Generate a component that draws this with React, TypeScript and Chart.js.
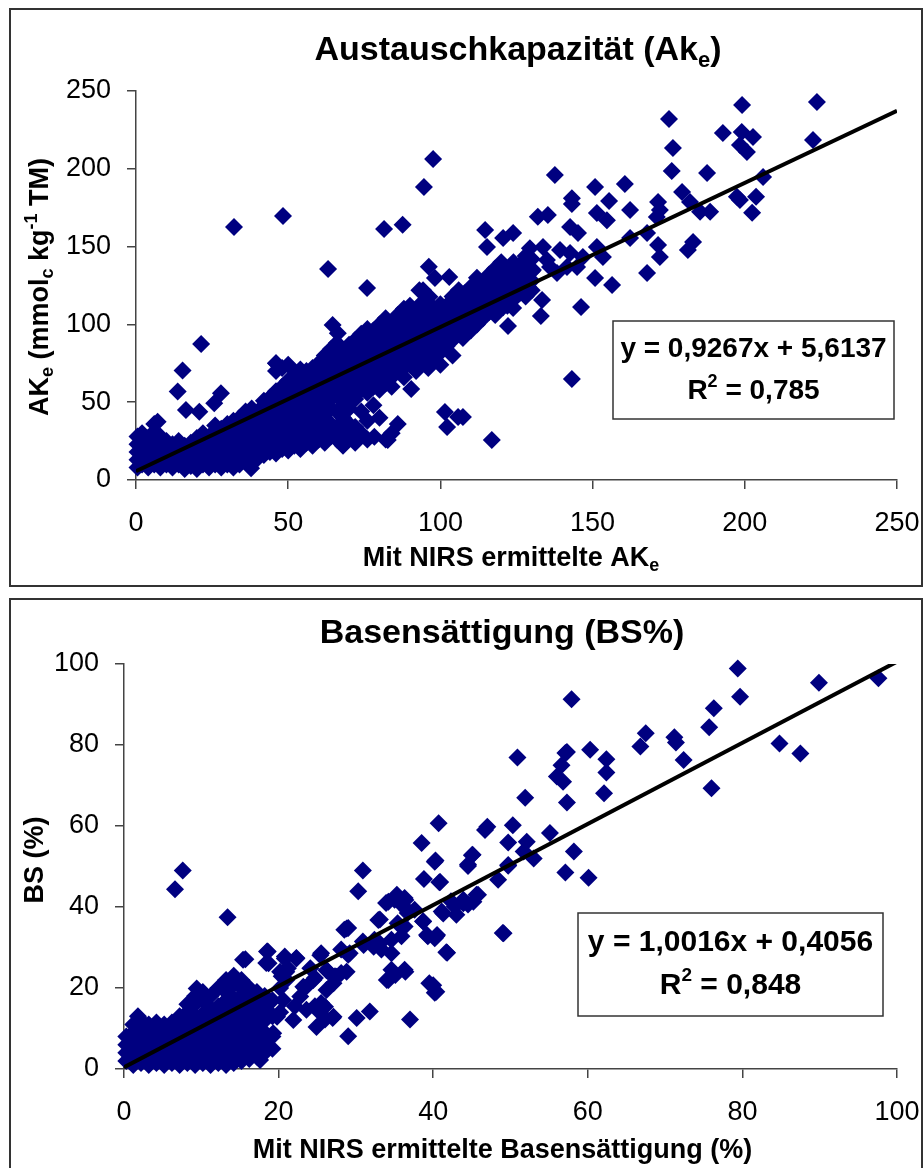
import React, { useEffect, useRef } from 'react';
import { Chart, registerables } from 'chart.js';

Chart.register(...registerables);

const FONT = '"Liberation Sans", Arial, Helvetica, sans-serif';
const NAVY = '#000080';

// ---------- Chart 1: Austauschkapazität ----------
const akeTicks = [0, 50, 100, 150, 200, 250];
const akeTrendX = [0, 250];
const akeTrendY = [5.61, 237.3];

// dense cloud: [NIRS value, measured values at that NIRS value]
const akeDense: [number, number[]][] = [
  [0.5, [8, 13, 18, 23, 28]], [2, [10, 15, 20, 25, 30]], [4, [8, 12, 17, 22, 27]],
  [6, [10, 15, 20, 25, 31, 36]], [8, [8, 13, 18, 23, 28]], [10, [10, 15, 20, 25]],
  [12, [8, 13, 18, 23]], [14, [10, 15, 20, 25]], [16, [7, 12, 17, 22]],
  [18, [9, 14, 19, 24]], [20, [7, 12, 17, 22, 27]], [22, [10, 15, 20, 25, 30]],
  [24, [8, 13, 18, 23, 28]], [26, [10, 15, 20, 25, 30, 35]], [28, [8, 13, 18, 23, 28, 33]],
  [30, [10, 15, 20, 25, 30, 36]], [32, [8, 13, 18, 23, 28, 33, 38]], [34, [10, 15, 20, 25, 30, 35, 40]],
  [36, [13, 18, 23, 28, 33, 38, 44]], [38, [12, 16, 21, 26, 31, 36, 41, 46]], [40, [14, 19, 24, 29, 34, 39, 44]],
  [42, [16, 21, 26, 31, 36, 41, 46, 51]], [44, [18, 23, 28, 33, 38, 43, 48, 53]],
  [46, [17, 22, 27, 32, 37, 42, 47, 52, 57, 70, 75]], [48, [20, 25, 30, 35, 40, 45, 50, 55, 60, 72]],
  [50, [19, 24, 29, 34, 39, 44, 49, 54, 59, 64, 74]], [52, [22, 27, 32, 37, 42, 47, 52, 57, 62, 67]],
  [54, [20, 26, 31, 36, 41, 46, 51, 56, 61, 66, 71]], [56, [24, 29, 34, 39, 44, 50, 55, 60, 65, 70]],
  [58, [22, 28, 38, 45, 52, 57, 62, 67, 72]], [60, [26, 35, 42, 50, 55, 60, 65, 70, 75]],
  [62, [24, 30, 40, 48, 54, 59, 64, 69, 74, 80]], [64, [28, 36, 46, 52, 57, 62, 67, 72, 77, 84]],
  [66, [26, 34, 44, 55, 60, 65, 70, 75, 80, 88]], [68, [22, 30, 40, 50, 58, 63, 68, 73, 78, 83]],
  [70, [28, 36, 46, 56, 62, 67, 72, 77, 82, 87]], [72, [24, 34, 52, 60, 65, 70, 75, 80, 85, 90]],
  [74, [30, 44, 58, 64, 69, 74, 79, 84, 89, 94]], [76, [26, 38, 56, 62, 67, 72, 77, 82, 87, 92, 97]],
  [78, [48, 60, 66, 71, 76, 81, 86, 91, 96]], [80, [40, 58, 64, 69, 74, 79, 84, 89, 94, 100]],
  [82, [26, 62, 68, 73, 78, 83, 88, 93, 98, 104]], [84, [30, 60, 66, 71, 76, 81, 86, 91, 96, 101]],
  [86, [70, 76, 81, 86, 91, 96, 101, 106]], [88, [66, 72, 78, 84, 89, 94, 99, 104, 110]],
  [90, [74, 80, 86, 91, 96, 101, 106, 112]], [92, [70, 78, 84, 89, 94, 99, 104, 109]],
  [94, [76, 82, 88, 93, 98, 103, 108, 114]], [96, [72, 80, 86, 91, 96, 101, 106, 111]],
  [98, [78, 84, 90, 95, 100, 105, 110]], [100, [74, 82, 88, 93, 98, 103, 108, 113]],
  [102, [86, 92, 97, 102, 107, 112]], [104, [80, 90, 96, 101, 106, 111, 118]],
  [106, [94, 100, 105, 110, 115, 122]], [108, [98, 103, 108, 113, 120]],
  [110, [96, 102, 107, 112, 117, 124]], [112, [100, 106, 111, 116, 122, 130]],
  [114, [104, 110, 115, 120, 126]], [116, [108, 113, 118, 124, 132]],
  [118, [106, 112, 117, 122, 128, 136]], [120, [114, 119, 124, 130, 140]],
  [122, [112, 118, 123, 128, 134]], [124, [116, 122, 127, 132, 140]],
  [126, [120, 126, 131, 138]], [128, [118, 124, 130, 136, 144]], [130, [122, 128, 134, 142]],
];

const akeSparse: [number, number][] = [
  [32.2, 162.6], [48.3, 169.7], [63.1, 135.6], [75.9, 123.4], [81.5, 161.3], [87.6, 164],
  [97.6, 206.3], [94.6, 188.3], [96.2, 137], [98.2, 129.8], [102.9, 130.5], [94.3, 122],
  [93.1, 122], [96.4, 117.8], [175.1, 232], [199.1, 241], [223.7, 242.9], [192.8, 223],
  [199, 223.7], [202.7, 220.4], [198.4, 215.3], [200.7, 210.8], [222.4, 218.5], [176.4, 213.4],
  [176, 198.6], [187.6, 197.3], [137.6, 196], [150.8, 188.3], [160.6, 190.2], [179.4, 185.1],
  [143.2, 181], [143.2, 177.4], [155.4, 179.3], [171.5, 178.7], [182, 178.7], [206, 194.7],
  [197.4, 182], [203.7, 182], [202.4, 171.8], [198.4, 180], [162.3, 173.5], [172.1, 173.5],
  [188.6, 172.4], [185.3, 172.4], [132, 169.2], [135.3, 170.3], [171.1, 169], [151.4, 171.6],
  [154.7, 167], [142.6, 162.6], [145.2, 158.7], [114.7, 160.7], [115.3, 149.7], [120.6, 155.5],
  [123.9, 158.7], [162.3, 155.5], [167.9, 158.7], [171.5, 151], [172.1, 143.3], [183, 153],
  [181.3, 147.8], [151.4, 149.7], [153.4, 143.3], [167.9, 133], [150.8, 129.8], [156.4, 125.3],
  [129.4, 149], [133.7, 149.7], [139.3, 147.8], [142.6, 145.9], [146.8, 143.3], [135, 141.4],
  [144.9, 136.9], [119.6, 136.9], [122.9, 133], [117.3, 130.5], [113, 127.2], [126.1, 124],
  [130.4, 135], [136, 136.9], [141.6, 136.9], [146.2, 111.2], [133.4, 115.7], [133, 105.4],
  [122.2, 99], [143.2, 64.9], [116.9, 25.7], [113, 102.8], [115.3, 107], [120.6, 111],
  [123.9, 110.5], [128.8, 124], [138.3, 133], [118.6, 133.7], [125.2, 128.5], [101.5, 43.7],
  [102.2, 34], [105.8, 40.5], [107.4, 40.5], [107.4, 91.3], [105.5, 94.5], [100.9, 88],
  [97.6, 80], [21.4, 87.4], [15.3, 70.3], [13.7, 56.8], [86, 36], [90.4, 58.5], [78.3, 27.8],
  [82.7, 25.7], [71.7, 27.8], [37.8, 7.5], [7.1, 37.5], [27.9, 55.7], [25.7, 49.3], [16.4, 45],
  [20.8, 43.9], [64.6, 99.6], [66.3, 94.3], [46, 75],
];

// ---------- Chart 2: Basensättigung ----------
const bsTicks = [0, 20, 40, 60, 80, 100];
const bsTrendX = [0, 100];
const bsTrendY = [0.41, 100.57];

const bsDense: [number, number[]][] = [
  [0.3, [2, 4, 6, 8]], [1.2, [1, 3, 5, 7, 9, 11]], [1.8, [13]], [2.2, [1.5, 3.5, 5.5, 7.5, 9.5, 12]],
  [3.2, [1, 3, 5, 7, 9, 11]], [4.2, [1.5, 3.5, 5.5, 7.5, 9.5, 11.5]], [5.2, [1, 3, 5, 7, 9, 11]],
  [6.2, [1.5, 3.5, 5.5, 7.5, 9.5, 11.5]], [7.2, [1, 3, 5, 7, 9, 11, 13]],
  [8.2, [1.5, 3.5, 5.5, 7.5, 9.5, 11.5, 14, 16]], [9.2, [1, 3, 5, 7, 9, 11, 13, 16, 18]],
  [10.2, [1.5, 3.5, 5.5, 7.5, 9.5, 11.5, 13.5, 17, 19]], [11.2, [1, 3, 5, 7, 9, 11, 13, 15, 18]],
  [12.2, [1.5, 3.5, 5.5, 7.5, 9.5, 11.5, 13.5, 15.5, 20]],
  [13.2, [1, 3, 5, 7, 9, 11, 13, 15, 17, 19, 22]],
  [14.2, [1.5, 3.5, 5.5, 7.5, 9.5, 11.5, 13.5, 15.5, 17.5, 21, 23]],
  [15.2, [2, 4, 6, 8, 10, 12, 14, 16, 18, 20, 22]],
  [16.2, [2.5, 4.5, 6.5, 8.5, 10.5, 12.5, 14.5, 17, 20]], [17.2, [3, 5, 7, 9, 11, 13, 16, 19]],
  [18.2, [4, 6, 9, 12, 15, 18]], [19.2, [5, 8, 13, 17]], [20.2, [14, 20, 24]],
];

const bsSparse: [number, number][] = [
  [7.6, 49], [6.6, 44.4], [13.4, 37.5], [30.9, 49], [30.3, 43.9], [38.5, 55.8], [40.3, 51.5],
  [45.1, 52.9], [44.5, 50.5], [38.8, 46.9], [40.8, 46.1], [48.4, 46.7], [49.7, 50.2], [49, 33.6],
  [41.7, 28.8], [39.3, 32.8], [40.4, 32.8], [38.7, 36.5], [41.1, 38.9], [43, 38.1], [44.5, 40.6],
  [45.6, 43], [43.9, 41.8], [42.3, 41.4], [39.5, 21.2], [40.2, 18.8], [37, 12.2], [34.2, 22],
  [36.3, 24.5], [34.6, 24.5], [35, 41.8], [36.3, 42.2], [35.9, 40.6], [33.9, 41], [33.1, 36.9],
  [35.4, 36], [36.3, 35.2], [36.7, 38.5], [37.6, 39.3], [34.6, 31.9], [35.9, 32.8], [32.4, 31.9],
  [28.5, 34.4], [29, 34.8], [30.9, 31.5], [33.3, 29.5], [31.8, 14.2], [30.1, 12.6], [29, 8.1],
  [27.3, 22.9], [28.1, 23.7], [27, 12.6], [25.5, 28.6], [28.1, 29.5], [29, 28.2], [26.4, 24.1],
  [24.7, 15.5], [25.5, 16.3], [26, 12.2], [22.1, 15.5], [18.6, 29], [18.4, 26.2], [20.8, 27.8],
  [22.3, 27.4], [21.2, 24.9], [15.4, 27], [24.7, 22.5], [23.4, 20], [20.4, 22.9],
  [79.4, 98.9], [89.9, 95.4], [97.6, 96.5], [79.7, 91.9], [76.3, 89.1], [75.7, 84.4],
  [57.9, 91.3], [50.9, 76.9], [67.5, 82.9], [66.8, 79.6], [71.2, 81.9], [71.4, 80.6],
  [72.4, 76.3], [84.8, 80.4], [87.5, 77.9], [76, 69.3], [57.3, 78.3], [56.6, 75], [56, 72.2],
  [56.8, 70.9], [60.3, 78.8], [62.4, 76.5], [62.4, 73.2], [62.1, 68.1], [57.3, 65.8],
  [51.9, 67], [40.7, 60.7], [40.2, 51.2], [40.9, 46.2], [46.7, 59], [47, 59.8], [45, 52.8],
  [44.5, 50.1], [50.3, 60.2], [49.7, 55.9], [52.1, 56.1], [51.7, 53.7], [53, 52], [49.7, 50.4],
  [55.1, 58.3], [58.2, 53.7], [57.1, 48.5], [60.1, 47.2], [49.1, 33.5], [45.8, 43],
  [45.2, 41.3], [43.9, 40.9], [42.8, 40.1], [41.3, 38.4], [40.5, 33.1], [41.8, 28.7], [40, 20.7],
  [40.4, 19.1], [57.1, 78], [34, 22], [35.1, 23.2], [36.4, 24], [34.6, 28.6], [32.9, 36.8],
  [34.2, 41.3], [35.3, 43], [36.4, 41.7], [36.6, 39.3], [38.7, 36.4], [39.2, 33.1], [40.2, 32.3],
  [28.8, 34.7], [31, 30.6], [32.3, 30.2], [33.1, 31], [29.2, 28.6], [25.4, 28.1], [26.2, 24.4],
  [27.5, 22.8], [28.8, 24], [27.1, 21.2], [18.5, 29], [18.7, 26.1], [20.8, 27.3], [22.3, 27.3],
  [21, 24], [24.1, 24.9], [15.7, 27.1], [9.4, 19.9], [20.6, 17], [22.8, 17.9], [23.6, 14.6],
  [25.4, 13.8], [26, 15.4], [27.1, 12.9], [24.9, 10.4], [21.9, 12.1], [19.8, 12.9], [18.5, 14.6],
  [21, 22], [23.2, 20.3], [24.5, 22], [26.2, 19.5], [19.3, 8.8], [18.5, 5.5], [17.6, 2.2],
];

// ---------- helpers ----------
type Seg = { t: string; size: number; dy?: number };
type Deco = {
  title: { segs: Seg[]; cx: number; y: number };
  xTitle: { segs: Seg[]; cx: number; y: number };
  yTitle: { segs: Seg[]; x: number; cy: number };
  box: { x: number; y: number; w: number; h: number; cx: number; lines: { segs: Seg[]; y: number }[] };
};

function setFont(ctx: CanvasRenderingContext2D, size: number) {
  ctx.font = `bold ${size}px ${FONT}`;
}
function segsWidth(ctx: CanvasRenderingContext2D, segs: Seg[]) {
  let w = 0;
  for (const s of segs) {
    setFont(ctx, s.size);
    w += ctx.measureText(s.t).width;
  }
  return w;
}
function drawSegs(ctx: CanvasRenderingContext2D, segs: Seg[], cx: number, y: number) {
  let x = cx - segsWidth(ctx, segs) / 2;
  ctx.textAlign = 'left';
  ctx.textBaseline = 'alphabetic';
  ctx.fillStyle = '#000';
  for (const s of segs) {
    setFont(ctx, s.size);
    ctx.fillText(s.t, x, y + (s.dy || 0));
    x += ctx.measureText(s.t).width;
  }
}

function makeDecoPlugin(d: Deco) {
  return {
    id: 'deco',
    afterDraw(chart: any) {
      const ctx: CanvasRenderingContext2D = chart.ctx;
      ctx.save();
      drawSegs(ctx, d.title.segs, d.title.cx, d.title.y);
      drawSegs(ctx, d.xTitle.segs, d.xTitle.cx, d.xTitle.y);
      ctx.save();
      ctx.translate(d.yTitle.x, d.yTitle.cy);
      ctx.rotate(-Math.PI / 2);
      drawSegs(ctx, d.yTitle.segs, 0, 0);
      ctx.restore();
      const b = d.box;
      ctx.fillStyle = '#fff';
      ctx.fillRect(b.x, b.y, b.w, b.h);
      ctx.strokeStyle = '#333';
      ctx.lineWidth = 1.5;
      ctx.strokeRect(b.x, b.y, b.w, b.h);
      for (const l of b.lines) drawSegs(ctx, l.segs, b.cx, l.y);
      ctx.restore();
    },
  };
}

type Spec = {
  width: number;
  height: number;
  area: { left: number; right: number; top: number; bottom: number };
  xMax: number;
  yMax: number;
  ticks: number[];
  dense: [number, number[]][];
  sparse: [number, number][];
  trendX: number[];
  trendY: number[];
  xLabelLine: number;
  yPad: number;
  deco: Deco;
};

function buildChart(canvas: HTMLCanvasElement, s: Spec) {
  const pts: { x: number; y: number }[] = [];
  s.dense.forEach(([x, ys]) => ys.forEach((y) => pts.push({ x, y })));
  s.sparse.forEach(([x, y]) => pts.push({ x, y }));
  const trend = s.trendX.map((x, i) => ({ x, y: s.trendY[i] }));
  const axisColor = '#444';
  const common = (max: number) => ({
    type: 'linear' as const,
    min: 0,
    max,
    afterBuildTicks: (sc: any) => {
      sc.ticks = s.ticks.map((v) => ({ value: v }));
    },
    grid: { drawOnChartArea: false, drawTicks: true, tickLength: 9, color: axisColor, lineWidth: 1.5 },
    border: { display: true, color: axisColor, width: 1.5 },
  });
  return new Chart(canvas, {
    type: 'scatter',
    data: {
      datasets: [
        {
          data: trend,
          showLine: true,
          borderColor: '#000',
          borderWidth: 4,
          pointRadius: 0,
          pointHoverRadius: 0,
          order: 0,
        } as any,
        {
          data: pts,
          pointStyle: 'rectRot',
          pointRadius: 9,
          pointHoverRadius: 0,
          backgroundColor: NAVY,
          borderColor: NAVY,
          borderWidth: 0,
          clip: false,
          order: 1,
        } as any,
      ],
    },
    options: {
      animation: false,
      responsive: false,
      events: [],
      layout: { autoPadding: false, padding: { left: 0, right: s.width - s.area.right, top: s.area.top, bottom: 0 } },
      plugins: { legend: { display: false }, tooltip: { enabled: false }, title: { display: false } },
      scales: {
        x: {
          ...common(s.xMax),
          ticks: { font: { family: FONT, size: 27, lineHeight: `${s.xLabelLine}px` }, color: '#000', padding: 2 },
          afterFit: (sc: any) => { sc.height = s.height - s.area.bottom; },
        },
        y: {
          ...common(s.yMax),
          ticks: { font: { family: FONT, size: 27 }, color: '#000', padding: s.yPad },
          afterFit: (sc: any) => { sc.width = s.area.left; },
        },
      },
    } as any,
    plugins: [makeDecoPlugin(s.deco)],
  });
}

const topSpec: Spec = {
  width: 914,
  height: 579,
  area: { left: 127, right: 888, top: 83, bottom: 472 },
  xMax: 250,
  yMax: 250,
  ticks: akeTicks,
  dense: akeDense,
  sparse: akeSparse,
  trendX: akeTrendX,
  trendY: akeTrendY,
  xLabelLine: 66,
  yPad: 16,
  deco: {
    title: { segs: [{ t: 'Austauschkapazität (Ak', size: 34 }, { t: 'e', size: 22, dy: 7 }, { t: ')', size: 34 }], cx: 509, y: 52 },
    xTitle: { segs: [{ t: 'Mit NIRS ermittelte AK', size: 27 }, { t: 'e', size: 18, dy: 5 }], cx: 502, y: 558 },
    yTitle: {
      segs: [
        { t: 'AK', size: 27 }, { t: 'e', size: 18, dy: 5 }, { t: ' (mmol', size: 27 }, { t: 'c', size: 18, dy: 5 },
        { t: ' kg', size: 27 }, { t: '-1', size: 18, dy: -11 }, { t: ' TM)', size: 27 },
      ],
      x: 39,
      cy: 279,
    },
    box: {
      x: 604, y: 313, w: 281, h: 98, cx: 744.5,
      lines: [
        { segs: [{ t: 'y = 0,9267x + 5,6137', size: 28 }], y: 349 },
        { segs: [{ t: 'R', size: 28 }, { t: '2', size: 18, dy: -12 }, { t: ' = 0,785', size: 28 }], y: 391 },
      ],
    },
  },
};

const bottomSpec: Spec = {
  width: 914,
  height: 570,
  area: { left: 115, right: 888, top: 66, bottom: 471 },
  xMax: 100,
  yMax: 100,
  ticks: bsTicks,
  dense: bsDense,
  sparse: bsSparse,
  trendX: bsTrendX,
  trendY: bsTrendY,
  xLabelLine: 66,
  yPad: 16,
  deco: {
    title: { segs: [{ t: 'Basensättigung (BS%)', size: 34 }], cx: 493, y: 45 },
    xTitle: { segs: [{ t: 'Mit NIRS ermittelte Basensättigung (%)', size: 27 }], cx: 493.5, y: 560 },
    yTitle: { segs: [{ t: 'BS (%)', size: 27 }], x: 34, cy: 262 },
    box: {
      x: 569, y: 315, w: 305, h: 103, cx: 721.5,
      lines: [
        { segs: [{ t: 'y = 1,0016x + 0,4056', size: 30 }], y: 353 },
        { segs: [{ t: 'R', size: 30 }, { t: '2', size: 19, dy: -13 }, { t: ' = 0,848', size: 30 }], y: 396 },
      ],
    },
  },
};

function Panel({ spec, top, noBottom }: { spec: Spec; top: number; noBottom?: boolean }) {
  const ref = useRef<HTMLCanvasElement | null>(null);
  useEffect(() => {
    if (!ref.current) return;
    const c = buildChart(ref.current, spec);
    return () => c.destroy();
  }, [spec]);
  return (
    <>
      <div
        style={{
          position: 'absolute',
          left: 9,
          top,
          width: spec.width,
          height: spec.height,
          boxSizing: 'border-box',
          border: '2px solid #333',
          borderBottom: noBottom ? 'none' : '2px solid #333',
          background: '#fff',
        }}
      />
      <canvas
        ref={ref}
        width={spec.width}
        height={spec.height}
        style={{ position: 'absolute', left: 9, top, width: spec.width, height: spec.height }}
      />
    </>
  );
}

export default function App() {
  useEffect(() => {
    document.documentElement.style.overflow = 'hidden';
    document.body.style.overflow = 'hidden';
  }, []);
  return (
    <div>
      <Panel spec={topSpec} top={8} />
      <Panel spec={bottomSpec} top={598} noBottom />
    </div>
  );
}
